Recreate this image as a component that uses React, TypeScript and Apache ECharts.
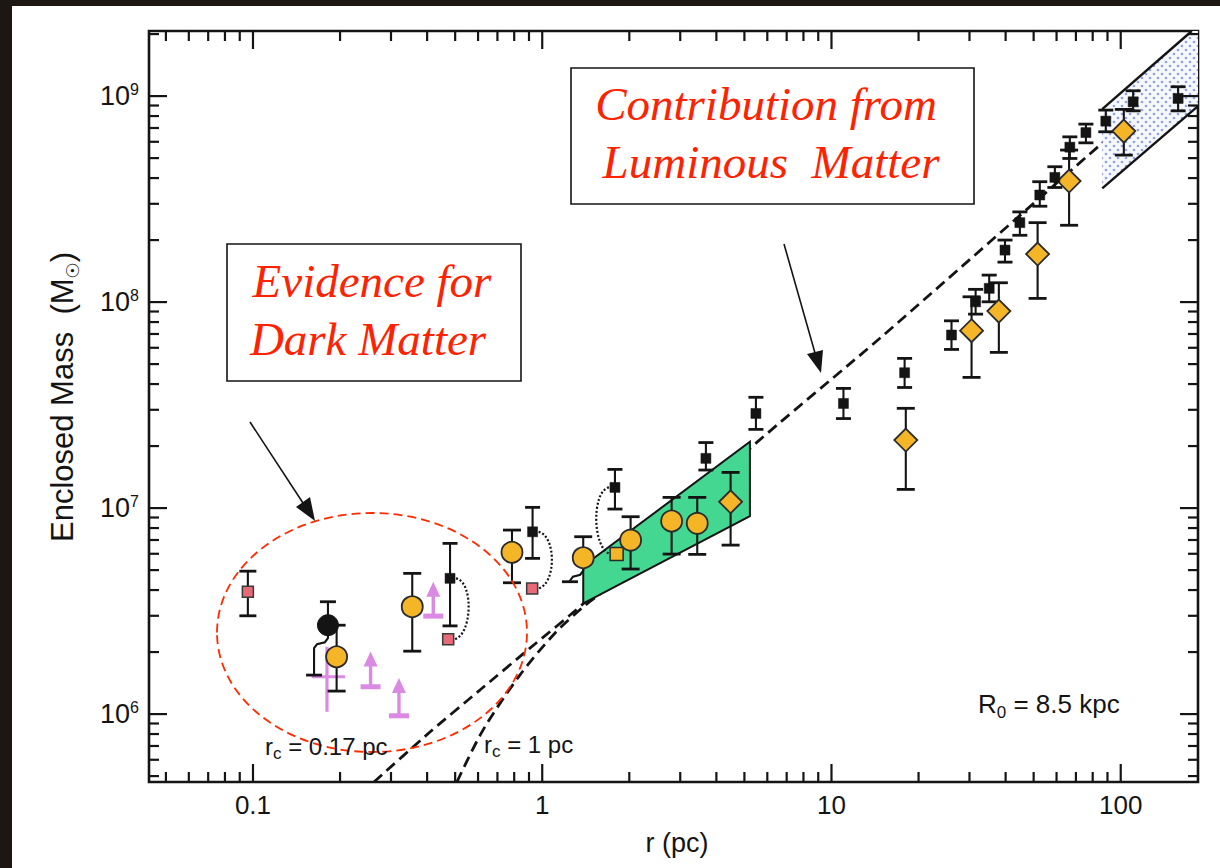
import React, { useEffect, useRef } from 'react';
import * as echarts from 'echarts';

// ---------- axis ranges ----------
const X_MIN = 0.0437;
const X_MAX = 185;
const Y_MIN = 4.68e5;
const Y_MAX = 2.07e9;

// ---------- tick labels ----------
const X_LABEL_VALUES = [0.1, 1, 10, 100];
const X_LABEL_TEXTS = ['0.1', '1', '10', '100'];
const Y_LABEL_EXPONENTS = [6, 7, 8, 9];

// ---------- ticks ----------
const X_MAJOR_TICKS = [0.1, 1, 10, 100];
const X_MINOR_TICKS = [
  0.05, 0.06, 0.07, 0.08, 0.09,
  0.2, 0.3, 0.4, 0.5, 0.6, 0.7, 0.8, 0.9,
  2, 3, 4, 5, 6, 7, 8, 9,
  20, 30, 40, 50, 60, 70, 80, 90,
];
const Y_MAJOR_TICKS = [1e6, 1e7, 1e8, 1e9];
const Y_MINOR_TICKS = [
  5e5, 6e5, 7e5, 8e5, 9e5,
  2e6, 3e6, 4e6, 5e6, 6e6, 7e6, 8e6, 9e6,
  2e7, 3e7, 4e7, 5e7, 6e7, 7e7, 8e7, 9e7,
  2e8, 3e8, 4e8, 5e8, 6e8, 7e8, 8e8, 9e8,
  2e9,
];

// ---------- data: [r (pc), M, M_low, M_high] ----------
const BLACK_SQUARES = [
  [0.48, 4.56e6, 2.68e6, 6.74e6],
  [0.926, 7.67e6, 5.7e6, 1.008e7],
  [1.784, 1.26e7, 9.89e6, 1.541e7],
  [3.68, 1.743e7, 1.53e7, 2.08e7],
  [5.48, 2.88e7, 2.41e7, 3.45e7],
  [11.0, 3.22e7, 2.72e7, 3.81e7],
  [17.9, 4.54e7, 3.85e7, 5.33e7],
  [26.0, 6.92e7, 5.89e7, 8.11e7],
  [31.5, 1.003e8, 8.74e7, 1.153e8],
  [35.1, 1.166e8, 1.003e8, 1.352e8],
  [39.8, 1.788e8, 1.563e8, 2.0e8],
  [44.8, 2.43e8, 2.11e8, 2.74e8],
  [52.5, 3.31e8, 2.92e8, 3.84e8],
  [59.2, 4.03e8, 3.6e8, 4.54e8],
  [66.7, 5.65e8, 4.98e8, 6.34e8],
  [75.8, 6.65e8, 5.93e8, 7.31e8],
  [88.8, 7.56e8, 6.71e8, 8.55e8],
  [110.4, 9.38e8, 8.48e8, 1.061e9],
  [157.9, 9.74e8, 8.48e8, 1.11e9],
];
const YELLOW_CIRCLES = [
  [0.1946, 1.897e6, 1.293e6, 2.7e6],
  [0.3553, 3.32e6, 2.02e6, 4.82e6],
  [0.786, 6.1e6, 4.34e6, 7.82e6],
  [1.386, 5.74e6, null, 7.26e6],
  [2.021, 6.99e6, 5.06e6, 9.08e6],
  [2.801, 8.65e6, 5.98e6, 1.127e7],
  [3.435, 8.43e6, 5.96e6, 1.127e7],
];
const DIAMONDS = [
  [4.48, 1.073e7, 6.61e6, 1.49e7],
  [18.07, 2.14e7, 1.232e7, 3.05e7],
  [30.5, 7.26e7, 4.31e7, 1.061e8],
  [37.9, 9.04e7, 5.7e7, 1.241e8],
  [51.6, 1.71e8, 1.042e8, 2.43e8],
  [66.3, 3.87e8, 2.36e8, 5.47e8],
  [102.5, 6.76e8, 5.17e8, 8.62e8],
];
const RED_SQUARES = [
  [0.096, 3.92e6, 3.0e6, 4.94e6],
  [0.473, 2.305e6, null, null],
  [0.923, 4.07e6, null, null],
];
const BLACK_CIRCLE = [[0.1816, 2.7e6, null, 3.51e6]];
const SMALL_YELLOW_SQUARE = [[1.808, 5.98e6]];
// lower error bar drawn with an offset cap: [r, M, r_cap, M_cap]
const OFFSET_LOWER_BARS = [
  [0.1816, 2.7e6, 0.1626, 1.546e6],
  [1.386, 5.74e6, 1.247, 4.39e6],
];
// lower limits (arrows): [r, M_base, M_head]
const LOWER_LIMITS = [
  [0.255, 1.357e6, 2.01e6],
  [0.3196, 9.81e5, 1.496e6],
  [0.42, 2.99e6, 4.39e6],
];
// cross: [r, M, M_low, M_high, r_low, r_high]
const PINK_CROSS = [[0.1802, 1.518e6, 1.026e6, 2.12e6, 0.1596, 0.208]];
// dotted links between paired points: [r1, M1, r2, M2, side]
const PAIR_LINKS = [
  [0.48, 4.56e6, 0.473, 2.305e6, 1],
  [0.926, 7.67e6, 0.923, 4.07e6, 1],
  [1.784, 1.26e7, 1.808, 5.98e6, -1],
];
// model curves
const MODEL_RC017 = [
  [0.262, 4.68e5], [0.409, 8.18e5], [0.609, 1.308e6], [0.907, 2.09e6],
  [1.382, 3.42e6], [5.23, 1.95e7], [14.7, 6.67e7], [84.7, 5.78e8], [185, 1.51e9],
];
const MODEL_RC1 = [
  [0.507, 4.68e5], [0.624, 8.36e5], [0.837, 1.546e6], [1.106, 2.47e6],
  [1.382, 3.3e6], [1.583, 3.82e6],
];
const GREEN_BAND = [[1.386, 5.23e6], [5.224, 2.1e7], [5.224, 9.15e6], [1.386, 3.45e6]];
const BLUE_BAND = [[86.3, 8.65e8], [176.1, 2.07e9], [185, 2.07e9], [185, 8.94e8], [86.3, 3.565e8]];

const INK = '#141414';
const YELLOW = '#f4b526';
const PINK = '#da8ae3';
const RED_TEXT = '#ff2200';
const SANS = '"Liberation Sans", Arial, Helvetica, sans-serif';
const SERIF = '"Liberation Serif", "Times New Roman", serif';

const nz = (v: number | null) => (v == null ? NaN : v);

function makeDotPattern(): any {
  try {
    const c = document.createElement('canvas');
    c.width = 8;
    c.height = 8;
    const ctx = c.getContext('2d');
    if (!ctx) return '#dfe5f5';
    ctx.fillStyle = '#f6f8fd';
    ctx.fillRect(0, 0, 8, 8);
    ctx.fillStyle = '#8ea4da';
    ctx.beginPath();
    ctx.arc(2, 2, 1.35, 0, Math.PI * 2);
    ctx.fill();
    ctx.beginPath();
    ctx.arc(6, 6, 1.35, 0, Math.PI * 2);
    ctx.fill();
    return { image: c, repeat: 'repeat', imageWidth: 8, imageHeight: 8 };
  } catch (e) {
    return '#dfe5f5';
  }
}

function errorBarSeries(data: (number | null)[][], cap: number) {
  return {
    type: 'custom',
    z: 4,
    silent: true,
    encode: { x: 0, y: 1 },
    data: data.map((d) => [d[0], d[1], nz(d[2]), nz(d[3])]),
    renderItem: (params: any, api: any) => {
      const r = api.value(0);
      const m = api.value(1);
      const lo = api.value(2);
      const hi = api.value(3);
      const c = api.coord([r, m]);
      const children: any[] = [];
      const ls = { stroke: INK, lineWidth: 2.1 };
      const cs = { stroke: INK, lineWidth: 2.8 };
      [lo, hi].forEach((v) => {
        if (!isNaN(v)) {
          const p = api.coord([r, v]);
          children.push({ type: 'line', shape: { x1: c[0], y1: c[1], x2: c[0], y2: p[1] }, style: ls });
          children.push({ type: 'line', shape: { x1: c[0] - cap / 2, y1: p[1], x2: c[0] + cap / 2, y2: p[1] }, style: cs });
        }
      });
      return { type: 'group', children };
    },
  };
}

function scatter(data: (number | null)[][], symbol: string, size: any, color: string, border: string, bw: number) {
  return {
    type: 'scatter',
    z: 5,
    silent: true,
    symbol,
    symbolSize: size,
    data: data.map((d) => [d[0], d[1]]),
    itemStyle: { color, borderColor: border, borderWidth: bw, opacity: 1 },
  };
}

const subRich = (size: number, subSize: number, lh: number) => ({
  a: { fontSize: size, fontFamily: SANS, fill: INK, lineHeight: lh },
  s: { fontSize: subSize, fontFamily: SANS, fill: INK, lineHeight: 10, height: 12, verticalAlign: 'bottom' },
});

export default function App() {
  const ref = useRef<HTMLDivElement>(null);
  useEffect(() => {
    const chart = echarts.init(ref.current!, null, { renderer: 'svg' });
    const blueFill = makeDotPattern();

    const xTicks = [
      ...X_MAJOR_TICKS.map((v) => [v, Y_MIN, 1]),
      ...X_MINOR_TICKS.map((v) => [v, Y_MIN, 0]),
    ];
    const yTicks = [
      ...Y_MAJOR_TICKS.map((v) => [X_MIN, v, 1]),
      ...Y_MINOR_TICKS.map((v) => [X_MIN, v, 0]),
    ];

    const option: any = {
      animation: false,
      backgroundColor: 'transparent',
      grid: {
        left: 149, top: 31, right: 22, bottom: 86,
        show: true, borderColor: INK, borderWidth: 2.6, backgroundColor: 'transparent',
      },
      xAxis: {
        type: 'log', logBase: 10, min: X_MIN, max: X_MAX,
        axisLine: { show: false }, axisTick: { show: false }, splitLine: { show: false },
        axisLabel: {
          interval: 0, showMinLabel: true, showMaxLabel: true,
          margin: 10, fontSize: 26, color: INK, fontFamily: SANS,
          formatter: (v: number) => {
            const i = X_LABEL_VALUES.findIndex((t) => Math.abs(Math.log10(v) - Math.log10(t)) < 1e-6);
            return i >= 0 ? X_LABEL_TEXTS[i] : '';
          },
        },
      },
      yAxis: {
        type: 'log', logBase: 10, min: Y_MIN, max: Y_MAX,
        axisLine: { show: false }, axisTick: { show: false }, splitLine: { show: false },
        axisLabel: {
          interval: 0, margin: 10, color: INK, fontFamily: SANS,
          formatter: (v: number) => {
            const e = Math.round(Math.log10(v));
            if (Math.abs(Math.log10(v) - e) > 1e-6 || !Y_LABEL_EXPONENTS.includes(e)) return '';
            return `{b|10}{s|${e}}`;
          },
          rich: {
            b: { fontSize: 27, lineHeight: 30, fontFamily: SANS, color: INK, verticalAlign: 'middle' },
            s: { fontSize: 16, lineHeight: 16, fontFamily: SANS, color: INK, verticalAlign: 'top' },
          },
        },
      },
      series: [
        // ticks on all four sides
        {
          type: 'custom', z: 6, silent: true, encode: { x: 0, y: 1 }, data: xTicks,
          renderItem: (p: any, api: any) => {
            const x = api.coord([api.value(0), Y_MIN])[0];
            const yb = api.coord([X_MIN, Y_MIN])[1];
            const yt = api.coord([X_MIN, Y_MAX])[1];
            const len = api.value(2) ? 18 : 10;
            const st = { stroke: INK, lineWidth: 2.2 };
            return {
              type: 'group', children: [
                { type: 'line', shape: { x1: x, y1: yb, x2: x, y2: yb - len }, style: st },
                { type: 'line', shape: { x1: x, y1: yt, x2: x, y2: yt + len }, style: st },
              ],
            };
          },
        },
        {
          type: 'custom', z: 6, silent: true, encode: { x: 0, y: 1 }, data: yTicks,
          renderItem: (p: any, api: any) => {
            const y = api.coord([X_MIN, api.value(1)])[1];
            const xl = api.coord([X_MIN, Y_MIN])[0];
            const xr = api.coord([X_MAX, Y_MIN])[0];
            const len = api.value(2) ? 18 : 10;
            const st = { stroke: INK, lineWidth: 2.2 };
            return {
              type: 'group', children: [
                { type: 'line', shape: { x1: xl, y1: y, x2: xl + len, y2: y }, style: st },
                { type: 'line', shape: { x1: xr, y1: y, x2: xr - len, y2: y }, style: st },
              ],
            };
          },
        },
        // model curves
        {
          type: 'line', z: 2, silent: true, data: MODEL_RC017, symbol: 'none', smooth: 0.2,
          lineStyle: { color: INK, width: 2.8, type: [11, 6] },
        },
        {
          type: 'line', z: 2, silent: true, data: MODEL_RC1, symbol: 'none', smooth: 0.3,
          lineStyle: { color: INK, width: 2.8, type: [11, 6] },
        },
        // bands
        {
          type: 'custom', z: 3, silent: true, encode: { x: 0, y: 1 }, data: GREEN_BAND,
          renderItem: (p: any, api: any) => {
            if (p.dataIndex !== 0) return null;
            const pts = GREEN_BAND.map((d) => api.coord(d));
            return { type: 'polygon', shape: { points: pts }, style: { fill: '#44d792', stroke: INK, lineWidth: 2 } };
          },
        },
        {
          type: 'custom', z: 3, silent: true, encode: { x: 0, y: 1 }, data: BLUE_BAND,
          renderItem: (p: any, api: any) => {
            if (p.dataIndex !== 0) return null;
            const pts = BLUE_BAND.map((d) => api.coord(d));
            return {
              type: 'group', children: [
                { type: 'polygon', shape: { points: pts }, style: { fill: blueFill, stroke: 'none' } },
                { type: 'line', shape: { x1: pts[0][0], y1: pts[0][1], x2: pts[1][0], y2: pts[1][1] }, style: { stroke: INK, lineWidth: 2.4 } },
                { type: 'line', shape: { x1: pts[4][0], y1: pts[4][1], x2: pts[3][0], y2: pts[3][1] }, style: { stroke: INK, lineWidth: 2.4 } },
              ],
            };
          },
        },
        // pink cross
        {
          type: 'custom', z: 4, silent: true, encode: { x: 0, y: 1 }, data: PINK_CROSS,
          renderItem: (p: any, api: any) => {
            const r = api.value(0), m = api.value(1);
            const top = api.coord([r, api.value(3)]);
            const bot = api.coord([r, api.value(2)]);
            const l = api.coord([api.value(4), m]);
            const rr = api.coord([api.value(5), m]);
            const st = { stroke: PINK, lineWidth: 3.2 };
            return {
              type: 'group', children: [
                { type: 'line', shape: { x1: top[0], y1: top[1], x2: bot[0], y2: bot[1] }, style: st },
                { type: 'line', shape: { x1: l[0], y1: l[1], x2: rr[0], y2: rr[1] }, style: st },
              ],
            };
          },
        },
        // lower limits
        {
          type: 'custom', z: 4, silent: true, encode: { x: 0, y: 1 }, data: LOWER_LIMITS,
          renderItem: (p: any, api: any) => {
            const r = api.value(0);
            const b = api.coord([r, api.value(1)]);
            const h = api.coord([r, api.value(2)]);
            return {
              type: 'group', children: [
                { type: 'line', shape: { x1: b[0] - 10, y1: b[1], x2: b[0] + 10, y2: b[1] }, style: { stroke: PINK, lineWidth: 5 } },
                { type: 'line', shape: { x1: b[0], y1: b[1], x2: h[0], y2: h[1] + 12 }, style: { stroke: PINK, lineWidth: 3.4 } },
                { type: 'polygon', shape: { points: [[h[0], h[1]], [h[0] - 7, h[1] + 15], [h[0] + 7, h[1] + 15]] }, style: { fill: PINK } },
              ],
            };
          },
        },
        // error bars
        errorBarSeries(RED_SQUARES, 17),
        errorBarSeries(BLACK_CIRCLE, 16),
        errorBarSeries(YELLOW_CIRCLES, 18),
        errorBarSeries(DIAMONDS, 18),
        errorBarSeries(BLACK_SQUARES, 15),
        // offset lower bars
        {
          type: 'custom', z: 4, silent: true, encode: { x: 0, y: 1 }, data: OFFSET_LOWER_BARS,
          renderItem: (p: any, api: any) => {
            const c = api.coord([api.value(0), api.value(1)]);
            const k = api.coord([api.value(2), api.value(3)]);
            return {
              type: 'group', children: [
                {
                  type: 'polyline',
                  shape: { points: [[c[0], c[1] + 9], [c[0], c[1] + 13], [c[0] - 3, c[1] + 17], [k[0] + 3, c[1] + 19], [k[0], c[1] + 23], [k[0], k[1]]] },
                  style: { stroke: INK, lineWidth: 2.1, fill: 'none' },
                },
                { type: 'line', shape: { x1: k[0] - 8, y1: k[1], x2: k[0] + 8, y2: k[1] }, style: { stroke: INK, lineWidth: 2.8 } },
              ],
            };
          },
        },
        // dotted links
        {
          type: 'custom', z: 4, silent: true, encode: { x: 0, y: 1 }, data: PAIR_LINKS,
          renderItem: (p: any, api: any) => {
            const a = api.coord([api.value(0), api.value(1)]);
            const b = api.coord([api.value(2), api.value(3)]);
            const s = api.value(4);
            return {
              type: 'bezierCurve',
              shape: {
                x1: a[0] + s * 6, y1: a[1], x2: b[0] + s * 6, y2: b[1],
                cpx1: a[0] + s * 24, cpy1: a[1] + 4, cpx2: b[0] + s * 24, cpy2: b[1] - 4,
              },
              style: { stroke: INK, lineWidth: 2.2, lineDash: [2, 2], fill: 'none' },
            };
          },
        },
        // markers
        scatter(RED_SQUARES, 'rect', 11, '#e66a78', '#3a3a3a', 1.5),
        scatter(BLACK_CIRCLE, 'circle', 21, INK, INK, 1),
        scatter(YELLOW_CIRCLES, 'circle', 21, YELLOW, '#2a2a2a', 1.8),
        scatter(DIAMONDS, 'diamond', 23, YELLOW, '#2a2a2a', 1.8),
        scatter(SMALL_YELLOW_SQUARE, 'rect', 13, YELLOW, '#2a2a2a', 1.5),
        scatter(BLACK_SQUARES, 'rect', 10, INK, INK, 0.5),
      ],
      graphic: [
        // y-axis title
        {
          type: 'text', x: 62, y: 397, rotation: Math.PI / 2, z: 100, silent: true,
          style: {
            text: '{a|Enclosed Mass  (M}{s|☉}{a|)}',
            align: 'center', verticalAlign: 'middle', fill: INK,
            rich: {
              a: { fontSize: 31, fontFamily: SANS, fill: INK, lineHeight: 32 },
              s: { fontSize: 18, fontFamily: '"DejaVu Sans", sans-serif', fill: INK, lineHeight: 10, height: 12, verticalAlign: 'bottom' },
            },
          },
        },
        // x-axis title
        {
          type: 'text', x: 677, y: 843, z: 100, silent: true,
          style: { text: 'r (pc)', fontSize: 27, fontFamily: SANS, fill: INK, align: 'center', verticalAlign: 'middle' },
        },
        // in-plot labels
        {
          type: 'text', x: 265, y: 746, z: 100, silent: true,
          style: { text: '{a|r}{s|c}{a| = 0.17 pc}', align: 'left', verticalAlign: 'middle', rich: subRich(24, 17, 26) },
        },
        {
          type: 'text', x: 484, y: 744, z: 100, silent: true,
          style: { text: '{a|r}{s|c}{a| = 1 pc}', align: 'left', verticalAlign: 'middle', rich: subRich(24, 17, 26) },
        },
        {
          type: 'text', x: 978, y: 704, z: 100, silent: true,
          style: { text: '{a|R}{s|0}{a| = 8.5 kpc}', align: 'left', verticalAlign: 'middle', rich: subRich(26, 17, 28) },
        },
        // dashed ellipse
        {
          type: 'ellipse', z: 90, silent: true,
          shape: { cx: 372, cy: 632.5, rx: 155, ry: 119.5 },
          style: { fill: 'none', stroke: '#ff2a00', lineWidth: 1.8, lineDash: [9, 5] },
        },
        // box: luminous matter
        {
          type: 'rect', z: 100, silent: true,
          shape: { x: 571, y: 68, width: 403, height: 136 },
          style: { fill: '#ffffff', stroke: INK, lineWidth: 1.6 },
        },
        {
          type: 'text', x: 766, y: 104, z: 101, silent: true,
          style: { text: 'Contribution from', fontSize: 47, fontStyle: 'italic', fontFamily: SERIF, fill: RED_TEXT, align: 'center', verticalAlign: 'middle' },
        },
        {
          type: 'text', x: 771, y: 162, z: 101, silent: true,
          style: { text: 'Luminous  Matter', fontSize: 47, fontStyle: 'italic', fontFamily: SERIF, fill: RED_TEXT, align: 'center', verticalAlign: 'middle' },
        },
        // box: dark matter
        {
          type: 'rect', z: 100, silent: true,
          shape: { x: 227, y: 244, width: 294, height: 137 },
          style: { fill: '#ffffff', stroke: INK, lineWidth: 1.6 },
        },
        {
          type: 'text', x: 372, y: 281, z: 101, silent: true,
          style: { text: 'Evidence for', fontSize: 47, fontStyle: 'italic', fontFamily: SERIF, fill: RED_TEXT, align: 'center', verticalAlign: 'middle' },
        },
        {
          type: 'text', x: 368, y: 339, z: 101, silent: true,
          style: { text: 'Dark Matter', fontSize: 47, fontStyle: 'italic', fontFamily: SERIF, fill: RED_TEXT, align: 'center', verticalAlign: 'middle' },
        },
        // arrows
        {
          type: 'line', z: 100, silent: true,
          shape: { x1: 784, y1: 244, x2: 815, y2: 353 },
          style: { stroke: INK, lineWidth: 1.6 },
        },
        {
          type: 'polygon', z: 100, silent: true,
          shape: { points: [[821, 373], [807, 354], [823, 350]] },
          style: { fill: INK },
        },
        {
          type: 'line', z: 100, silent: true,
          shape: { x1: 250, y1: 422, x2: 303, y2: 503 },
          style: { stroke: INK, lineWidth: 1.6 },
        },
        {
          type: 'polygon', z: 100, silent: true,
          shape: { points: [[315, 521], [296, 507], [310, 497]] },
          style: { fill: INK },
        },
      ],
    };

    chart.setOption(option);
    return () => chart.dispose();
  }, []);

  return (
    <div style={{ position: 'fixed', left: 0, top: 0, width: 1220, height: 868, background: '#1c1713', overflow: 'hidden' }}>
      <div style={{ position: 'absolute', left: 12, top: 6, right: 0, bottom: 0, background: '#ffffff' }} />
      <div ref={ref} style={{ position: 'absolute', left: 0, top: 0, width: 1220, height: 868 }} />
    </div>
  );
}
